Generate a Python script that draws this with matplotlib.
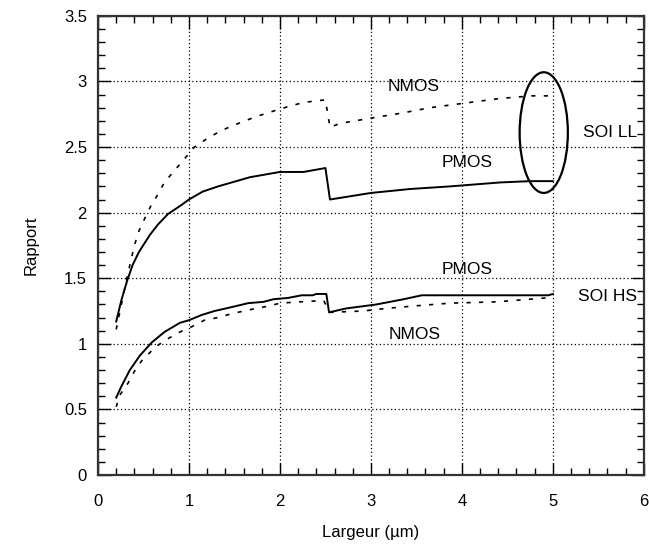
import matplotlib
matplotlib.use("Agg")
import matplotlib.pyplot as plt
from matplotlib.patches import Ellipse
from matplotlib.ticker import MultipleLocator, FormatStrFormatter

plt.rcParams['font.family'] = ['Liberation Sans', 'DejaVu Sans']

# SOI LL
ll_pmos_x = [0.2, 0.26, 0.32, 0.38, 0.45, 0.57, 0.66, 0.77, 0.9, 1.0, 1.15, 1.32, 1.52, 1.67,
             2.0, 2.26, 2.5, 2.55, 3.0, 3.43, 3.87, 4.42, 4.75, 5.0]
ll_pmos_y = [1.17, 1.34, 1.48, 1.60, 1.70, 1.83, 1.91, 1.99, 2.05, 2.10, 2.16, 2.20, 2.24, 2.27,
             2.31, 2.31, 2.34, 2.10, 2.15, 2.18, 2.20, 2.23, 2.24, 2.24]
ll_nmos_x = [0.2, 0.26, 0.32, 0.40, 0.45, 0.51, 0.58, 0.65, 0.73, 0.84, 0.95, 1.06, 1.19, 1.34,
             1.47, 1.73, 2.0, 2.26, 2.5, 2.55, 2.66, 3.0, 3.35, 3.65, 3.87, 4.42, 4.77, 5.0]
ll_nmos_y = [1.11, 1.31, 1.51, 1.75, 1.86, 1.95, 2.05, 2.13, 2.23, 2.32, 2.41, 2.50, 2.56, 2.62,
             2.66, 2.73, 2.79, 2.84, 2.86, 2.65, 2.68, 2.72, 2.76, 2.80, 2.82, 2.87, 2.89, 2.89]

# SOI HS
hs_pmos_x = [0.2, 0.26, 0.35, 0.46, 0.59, 0.73, 0.90, 1.0, 1.14, 1.28, 1.47, 1.65, 1.82, 1.93,
             2.09, 2.24, 2.36, 2.40, 2.51, 2.54, 2.73, 2.95, 3.06, 3.21, 3.36, 3.56, 4.95, 5.0]
hs_pmos_y = [0.59, 0.68, 0.80, 0.91, 1.01, 1.09, 1.16, 1.18, 1.22, 1.25, 1.28, 1.31, 1.32, 1.34,
             1.35, 1.37, 1.37, 1.38, 1.38, 1.24, 1.27, 1.29, 1.30, 1.32, 1.34, 1.37, 1.37, 1.38]
hs_nmos_x = [0.2, 0.24, 0.33, 0.40, 0.49, 0.64, 0.77, 0.90, 1.03, 1.17, 1.32, 1.47, 1.67, 1.89,
             2.0, 2.22, 2.48, 2.55, 2.91, 3.17, 3.50, 3.87, 4.38, 4.75, 4.93, 5.0]
hs_nmos_y = [0.52, 0.61, 0.70, 0.79, 0.88, 0.98, 1.04, 1.09, 1.13, 1.18, 1.20, 1.23, 1.26, 1.29,
             1.31, 1.32, 1.33, 1.24, 1.25, 1.27, 1.29, 1.31, 1.32, 1.34, 1.35, 1.36]

fig = plt.figure(figsize=(6.49, 5.46), dpi=100)
ax = fig.add_axes([0.151, 0.130, 0.841, 0.841])

dash = (0, (2.5, 5))
ax.plot(ll_pmos_x, ll_pmos_y, color='k', lw=1.4)
ax.plot(ll_nmos_x, ll_nmos_y, color='k', lw=1.2, linestyle=dash)
ax.plot(hs_pmos_x, hs_pmos_y, color='k', lw=1.4)
ax.plot(hs_nmos_x, hs_nmos_y, color='k', lw=1.2, linestyle=dash)

ax.add_patch(Ellipse((4.90, 2.61), 0.53, 0.92, fill=False, edgecolor='k', lw=1.6))

fs = 12.5
ax.text(3.47, 2.96, 'NMOS', fontsize=fs, ha='center', va='center')
ax.text(4.06, 2.38, 'PMOS', fontsize=fs, ha='center', va='center')
ax.text(5.93, 2.61, 'SOI LL', fontsize=fs, ha='right', va='center')
ax.text(4.06, 1.565, 'PMOS', fontsize=fs, ha='center', va='center')
ax.text(5.93, 1.36, 'SOI HS', fontsize=fs, ha='right', va='center')
ax.text(3.48, 1.07, 'NMOS', fontsize=fs, ha='center', va='center')

ax.set_xlim(0, 6)
ax.set_ylim(0, 3.5)
ax.xaxis.set_major_locator(MultipleLocator(1))
ax.xaxis.set_minor_locator(MultipleLocator(0.2))
ax.yaxis.set_major_locator(MultipleLocator(0.5))
ax.yaxis.set_minor_locator(MultipleLocator(0.1))
ax.xaxis.set_major_formatter(FormatStrFormatter('%g'))
ax.yaxis.set_major_formatter(FormatStrFormatter('%g'))

ax.tick_params(which='both', direction='in', top=True, right=True, labelsize=12, color='k')
ax.tick_params(which='major', length=9, width=1)
ax.tick_params(which='minor', length=5, width=1)
ax.tick_params(axis='x', which='major', pad=14)
ax.tick_params(axis='y', which='major', pad=8)
ax.grid(True, which='major', color='k', linestyle=(0, (1, 2)), lw=0.9)

for s in ax.spines.values():
    s.set_linewidth(1.6)
    s.set_color('#333333')

ax.set_xlabel('Largeur (µm)', fontsize=12, labelpad=11)
ax.set_ylabel('Rapport', fontsize=12, labelpad=18)

fig.savefig('out.png', dpi=100)
